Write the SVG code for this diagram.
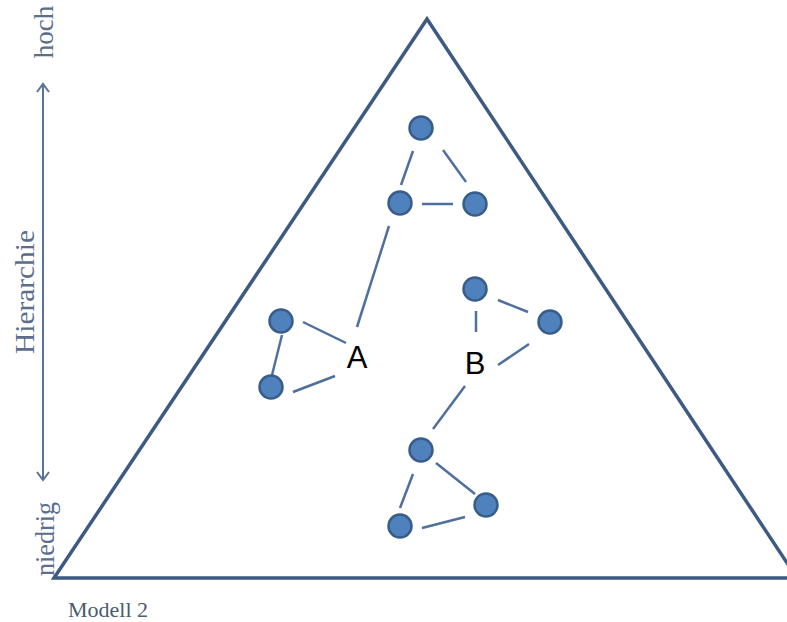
<svg xmlns="http://www.w3.org/2000/svg" width="787" height="622" viewBox="0 0 787 622">
<style>
.axis{stroke:#5b7397;stroke-width:2;fill:none}
.axt{font-family:"Liberation Serif",serif;font-size:27px;fill:#5b6e8c}
.tri{stroke:#3d5a83;stroke-width:3.5;fill:none;stroke-linejoin:miter}
.node{fill:#4f81bd;stroke:#385d8a;stroke-width:2.5}
.edge{stroke:#4f6f9e;stroke-width:2.5;stroke-linecap:butt}
.lbl{font-family:"Liberation Sans",Arial,sans-serif;font-size:31px;fill:#000;text-anchor:middle}
</style>
<rect width="787" height="622" fill="#fff"/>
<g id="axis">
<line class="axis" x1="43" y1="84" x2="43" y2="480"/>
<polyline class="axis" points="37,92 43,84 49,92"/>
<polyline class="axis" points="37,472 43,480 49,472"/>
<text class="axt" transform="translate(53,32) rotate(-90)" text-anchor="middle" font-size="22">hoch</text>
<text class="axt" transform="translate(34,292) rotate(-90)" text-anchor="middle" textLength="124" lengthAdjust="spacingAndGlyphs">Hierarchie</text>
<text class="axt" transform="translate(54,539) rotate(-90)" text-anchor="middle" textLength="74" lengthAdjust="spacingAndGlyphs">niedrig</text>
</g>
<g id="triangle">
<polyline class="tri" points="797,578 427,19 54,578 787,578"/>
</g>
<g id="connectors">
<line class="edge" x1="413" y1="151" x2="401" y2="185"/>
<line class="edge" x1="443" y1="150" x2="466" y2="182"/>
<line class="edge" x1="422" y1="204" x2="453" y2="204"/>
<line class="edge" x1="389" y1="226" x2="357" y2="327"/>
<line class="edge" x1="303" y1="322" x2="346" y2="343"/>
<line class="edge" x1="282" y1="335" x2="272" y2="375"/>
<line class="edge" x1="293" y1="392" x2="335" y2="376"/>
<line class="edge" x1="476" y1="311" x2="476" y2="332"/>
<line class="edge" x1="498" y1="300" x2="528" y2="312"/>
<line class="edge" x1="498" y1="365" x2="529" y2="344"/>
<line class="edge" x1="465" y1="386" x2="433" y2="429"/>
<line class="edge" x1="413" y1="474" x2="400" y2="508"/>
<line class="edge" x1="436" y1="463" x2="475" y2="494"/>
<line class="edge" x1="422" y1="528" x2="465" y2="517"/>
</g>
<g id="n1"><circle class="node" cx="421" cy="128" r="11.5"/></g>
<g id="n2"><circle class="node" cx="400" cy="203" r="11.5"/></g>
<g id="n3"><circle class="node" cx="475" cy="204" r="11.5"/></g>
<g id="n4"><circle class="node" cx="281" cy="321" r="11.5"/></g>
<g id="n5"><circle class="node" cx="271" cy="387" r="11.5"/></g>
<g id="n6"><circle class="node" cx="475" cy="289" r="11.5"/></g>
<g id="n7"><circle class="node" cx="550" cy="322" r="11.5"/></g>
<g id="n8"><circle class="node" cx="421" cy="450" r="11.5"/></g>
<g id="n9"><circle class="node" cx="486" cy="505" r="11.5"/></g>
<g id="n10"><circle class="node" cx="400" cy="526" r="11.5"/></g>
<g id="labelA"><text class="lbl" x="357" y="368">A</text></g>
<g id="labelB"><text class="lbl" x="475" y="374">B</text></g>
<g id="caption"><text x="68" y="617" font-family="Liberation Serif,serif" font-size="22" fill="#4a5a72">Modell 2</text></g>
</svg>
